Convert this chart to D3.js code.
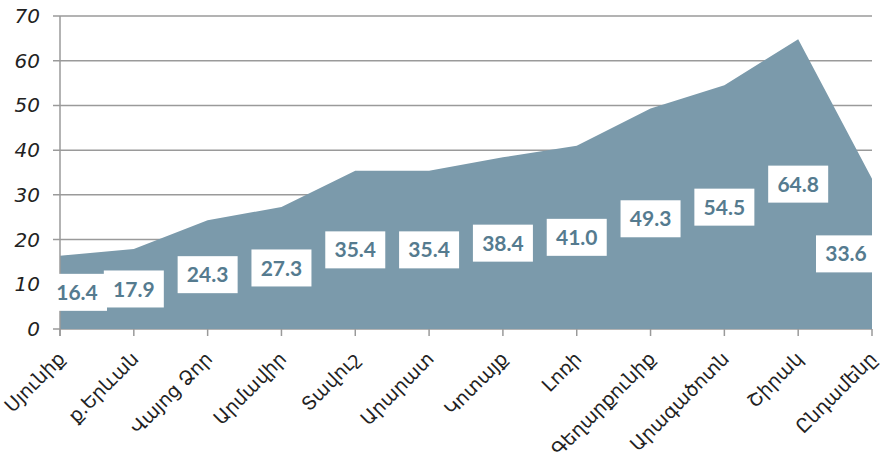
<!DOCTYPE html>
<html>
<head>
<meta charset="utf-8">
<script src="https://cdn.jsdelivr.net/npm/d3@7"></script>
<style>
  body { margin: 0; background: #fff; }
  .ylab { font-family: "DejaVu Sans", sans-serif; font-style: italic; font-size: 20px; fill: #222; }
  .xlab { font-family: "DejaVu Sans", sans-serif; font-size: 19px; fill: #222; }
  .val { font-family: Lato, sans-serif; font-weight: bold; font-size: 21px; fill: #557b8f; }
</style>
</head>
<body>
<svg id="chart"></svg>
<script>
var regions = ["Սյունիք", "ք.Երևան", "Վայոց Ձոր", "Արմավիր", "Տավուշ", "Արարատ",
               "Կոտայք", "Լոռի", "Գեղարքունիք", "Արագածոտն", "Շիրակ", "Ընդամենը"];
var values = [16.4, 17.9, 24.3, 27.3, 35.4, 35.4, 38.4, 41.0, 49.3, 54.5, 64.8, 33.6];
var yTicks = [0, 10, 20, 30, 40, 50, 60, 70];

var W = 882, H = 456;
var margin = {top: 16, right: 10, bottom: 127, left: 60},
    width = W - margin.left - margin.right,
    height = H - margin.top - margin.bottom;

var svg = d3.select("#chart").attr("width", W).attr("height", H);
var g = svg.append("g").attr("transform", "translate(" + margin.left + "," + margin.top + ")");

var x = d3.scalePoint().domain(regions).range([0, width]);
var y = d3.scaleLinear().domain([0, 70]).range([height, 0]);

// gridlines
g.selectAll("line.grid")
    .data(yTicks)
  .enter().append("line")
    .attr("class", "grid")
    .attr("x1", -7).attr("x2", width)
    .attr("y1", function(d){ return y(d); })
    .attr("y2", function(d){ return y(d); })
    .attr("stroke", "#9a9a9a")
    .attr("stroke-width", 1.5);

// area
var area = d3.area()
    .x(function(d, i){ return x(regions[i]); })
    .y0(height)
    .y1(function(d){ return y(d); });

g.append("path")
    .datum(values)
    .attr("d", area)
    .attr("fill", "#7b9aab");

// axes lines
g.append("line")
    .attr("x1", 0).attr("x2", 0).attr("y1", 0).attr("y2", height + 7)
    .attr("stroke", "#9a9a9a").attr("stroke-width", 1.5);

g.selectAll("line.xtick")
    .data(regions)
  .enter().append("line")
    .attr("class", "xtick")
    .attr("x1", function(d){ return x(d); })
    .attr("x2", function(d){ return x(d); })
    .attr("y1", height).attr("y2", height + 7)
    .attr("stroke", "#9a9a9a").attr("stroke-width", 1.5);

g.selectAll("text.ylab")
    .data(yTicks)
  .enter().append("text")
    .attr("class", "ylab")
    .attr("x", -20)
    .attr("y", function(d){ return y(d); })
    .attr("dy", "0.35em")
    .attr("text-anchor", "end")
    .text(function(d){ return d; });

g.selectAll("text.xlab")
    .data(regions)
  .enter().append("text")
    .attr("class", "xlab")
    .attr("text-anchor", "end")
    .attr("transform", function(d){
        return "translate(" + (x(d) + 6) + "," + (height + 31) + ") rotate(-45)";
    })
    .text(function(d){ return d; });

// value labels, placed at half height, kept inside the plot
var bw = 60, bh = 37;
var labels = g.selectAll("g.lbl")
    .data(values)
  .enter().append("g")
    .attr("class", "lbl")
    .attr("transform", function(d, i){
        var cx = Math.max(bw / 2 - 13, Math.min(width - bw / 2 + 4, x(regions[i])));
        return "translate(" + cx + "," + y(d / 2) + ")";
    });

labels.append("rect")
    .attr("x", -bw / 2).attr("y", -bh / 2)
    .attr("width", bw).attr("height", bh)
    .attr("fill", "#fff");

labels.append("text")
    .attr("class", "val")
    .attr("text-anchor", "middle")
    .attr("dy", "0.36em")
    .text(function(d){ return d.toFixed(1); });
</script>
</body>
</html>
